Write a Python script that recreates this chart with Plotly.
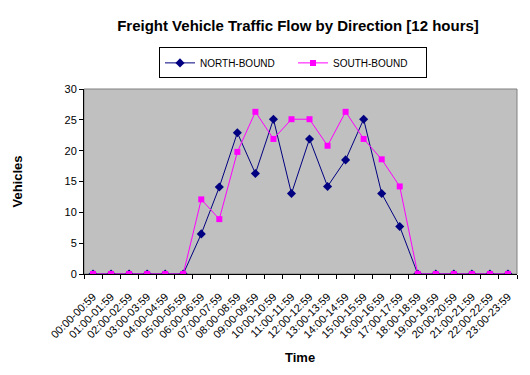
import plotly.graph_objects as go

categories = [f"{h:02d}:00-{h:02d}:59" for h in range(24)]
north = [0, 0, 0, 0, 0, 0, 6.5, 14.1, 22.9, 16.3, 25.1, 13.05, 21.9, 14.2, 18.5, 25.1, 13.05, 7.7, 0, 0, 0, 0, 0, 0]
south = [0, 0, 0, 0, 0, 0, 12.1, 8.9, 19.8, 26.3, 21.9, 25.1, 25.1, 20.8, 26.3, 21.9, 18.6, 14.2, 0, 0, 0, 0, 0, 0]

fig = go.Figure()
fig.add_trace(go.Scatter(x=categories, y=north, name="NORTH-BOUND", mode="lines+markers",
                         line=dict(color="#000080", width=1),
                         marker=dict(symbol="diamond", size=7, color="#000080")))
fig.add_trace(go.Scatter(x=categories, y=south, name="SOUTH-BOUND", mode="lines+markers",
                         line=dict(color="#FF00FF", width=1),
                         marker=dict(symbol="square", size=6, color="#FF00FF")))

fig.update_layout(
    width=530, height=375,
    margin=dict(l=84, r=13, t=89, b=101, autoexpand=False),
    paper_bgcolor="white", plot_bgcolor="#C0C0C0",
    font=dict(family="Arial, Liberation Sans", size=11, color="black"),
    title=dict(text="<b>Freight Vehicle Traffic Flow by Direction [12 hours]</b>",
               x=298 / 530, xanchor="center", y=1 - 26 / 375, yanchor="middle",
               font=dict(size=15)),
    legend=dict(orientation="h", x=(293 - 84) / 433, xanchor="center", y=1.225, yanchor="top",
                bordercolor="black", borderwidth=1, bgcolor="white",
                font=dict(size=10), itemwidth=30, entrywidth=88),
    showlegend=True,
)
fig.update_xaxes(type="category", range=[-0.5, 23.5], tickangle=-45, ticks="outside",
                 tickson="boundaries",
                 ticklen=4, tickcolor="black", showgrid=False, showline=True,
                 linecolor="black", mirror=False, automargin=False,
                 ticklabelstandoff=11, tickfont=dict(size=11))
fig.update_yaxes(range=[0, 30], dtick=5, ticks="outside", ticklen=4, tickcolor="black",
                 showgrid=False, showline=True, linecolor="black", zeroline=False,
                 automargin=False, tickfont=dict(size=11))
fig.add_annotation(text="<b>Vehicles</b>", xref="paper", yref="paper",
                   x=-67 / 433, y=0.5, textangle=-90, showarrow=False,
                   xanchor="center", yanchor="middle", font=dict(size=13))
fig.add_annotation(text="<b>Time</b>", xref="paper", yref="paper",
                   x=(300 - 84) / 433, y=-(357 - 274) / 185, showarrow=False,
                   xanchor="center", yanchor="middle", font=dict(size=13))
fig.add_shape(type="rect", xref="paper", yref="paper", x0=0, y0=0, x1=1, y1=1,
              line=dict(color="#808080", width=1), layer="below")

fig.write_html("out.html")
